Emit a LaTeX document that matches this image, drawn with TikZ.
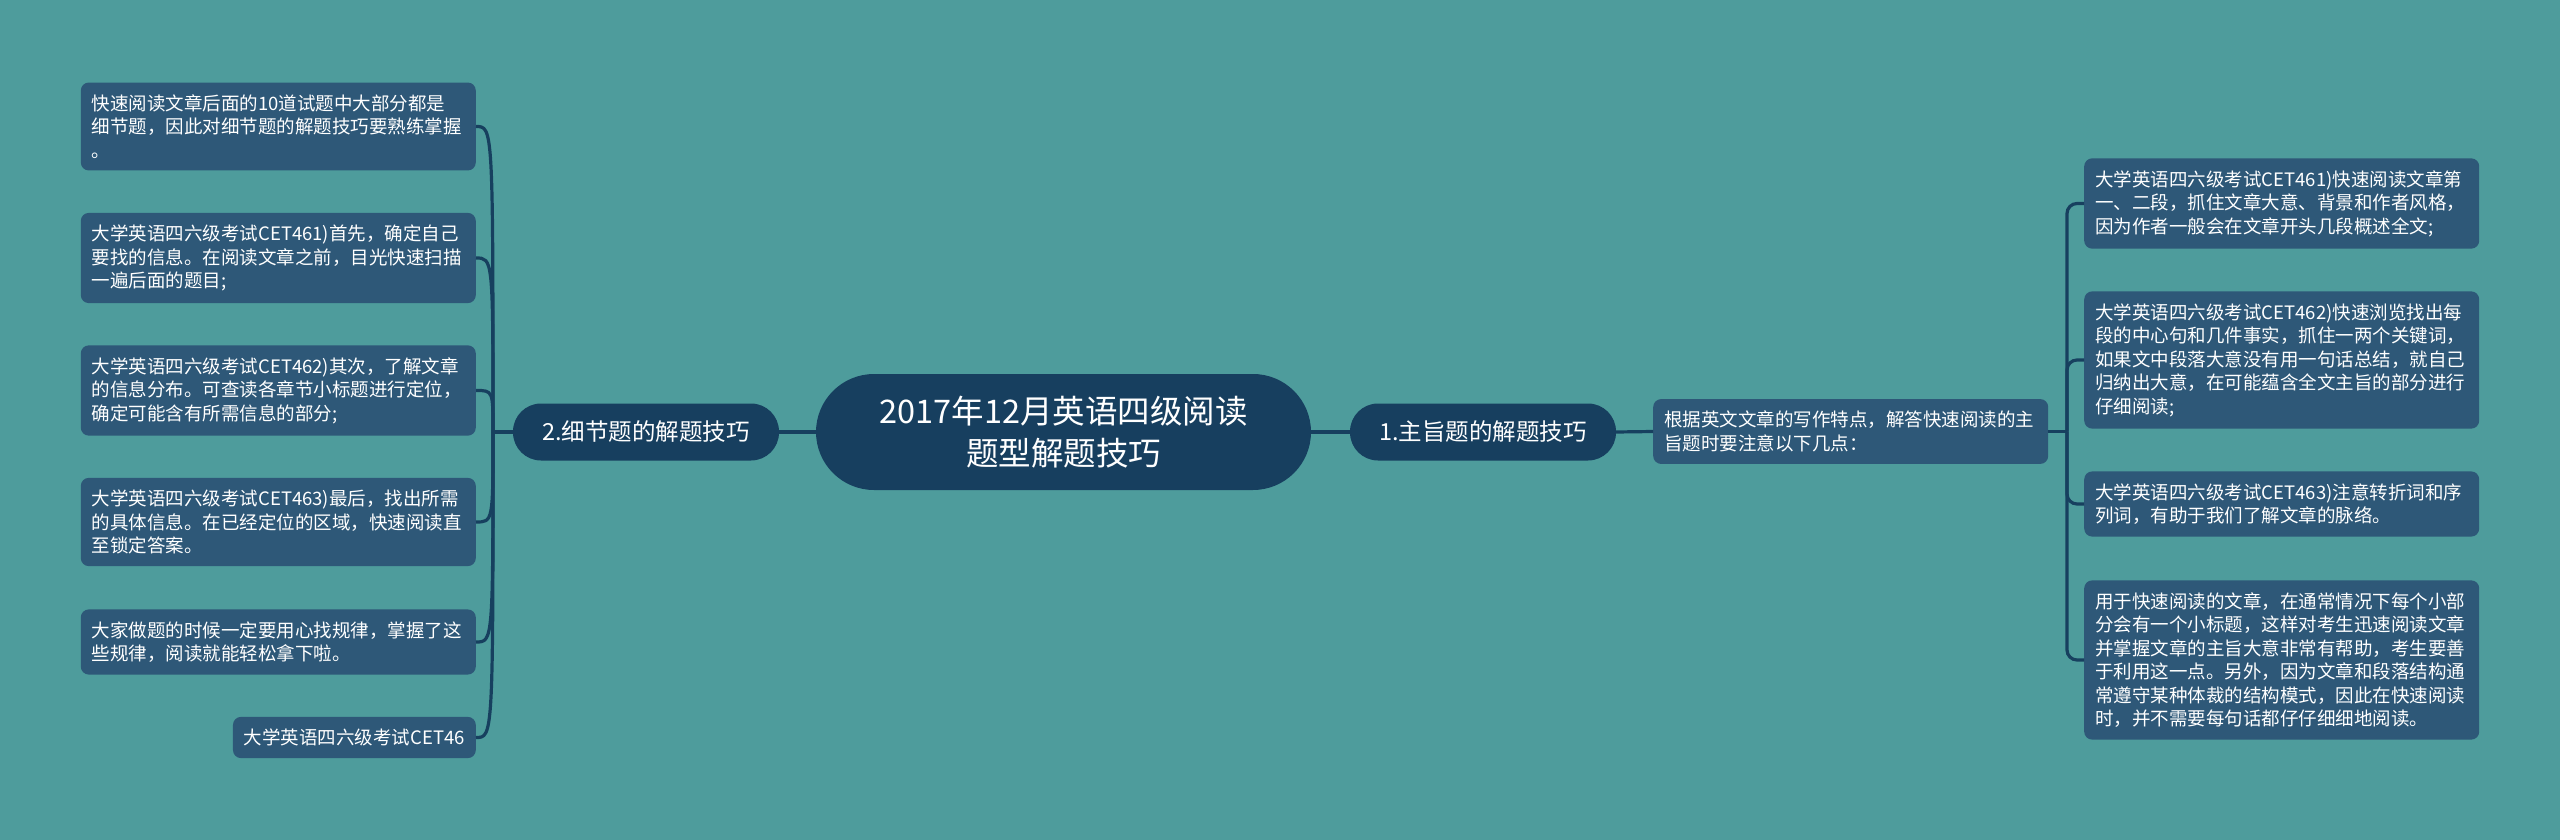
\documentclass[tikz,border=0pt]{standalone}
\usepackage{fontspec}
\setmainfont{Noto Sans CJK SC}
\usetikzlibrary{calc}
\definecolor{bgc}{HTML}{4E9C9C}
\definecolor{leafc}{HTML}{2E5878}
\definecolor{mainc}{HTML}{173F5F}
\definecolor{linec}{HTML}{17405F}
\tikzset{
  leaf/.style={fill=leafc, rounded corners=8pt, text=white, text width=373pt, align=left,
    inner xsep=11pt, inner ysep=12pt, font=\fontsize{18.5}{23.5}\selectfont},
  leafauto/.style={fill=leafc, rounded corners=8pt, text=white, align=left,
    inner xsep=11pt, inner ysep=12pt, font=\fontsize{18.5}{23.5}\selectfont},
  lone/.style={fill=mainc, rounded corners=28pt, text=white, minimum width=266pt,
    minimum height=57pt, font=\fontsize{23.5}{27}\selectfont},
  root/.style={fill=mainc, rounded corners=58pt, text=white, minimum width=495pt,
    minimum height=116pt, align=center, font=\fontsize{32.5}{42}\selectfont},
  conn/.style={draw=linec, line width=3.2pt}
}
\begin{document}
\begin{tikzpicture}[x=1pt,y=-1pt]
\fill[bgc] (0,0) rectangle (2560,840);
\useasboundingbox (0,0) rectangle (2560,840);

\node[root] (main) at (1063.5,432) {2017年12月英语四级阅读\\题型解题技巧};
\node[lone] (n2) at (646,432) {2.细节题的解题技巧};
\node[lone] (n1) at (1483,432) {1.主旨题的解题技巧};

\node[leaf, anchor=west] (r0) at (1653,431.5) {根据英文文章的写作特点，解答快速阅读的主\\旨题时要注意以下几点：};

\node[leaf, anchor=west] (r1) at (2084,203.5) {大学英语四六级考试CET461)快速阅读文章第\\一、二段，抓住文章大意、背景和作者风格，\\因为作者一般会在文章开头几段概述全文;};
\node[leaf, anchor=west] (r2) at (2084,360) {大学英语四六级考试CET462)快速浏览找出每\\段的中心句和几件事实，抓住一两个关键词，\\如果文中段落大意没有用一句话总结，就自己\\归纳出大意，在可能蕴含全文主旨的部分进行\\仔细阅读;};
\node[leaf, anchor=west] (r3) at (2084,504) {大学英语四六级考试CET463)注意转折词和序\\列词，有助于我们了解文章的脉络。};
\node[leaf, anchor=west] (r4) at (2084,660) {用于快速阅读的文章，在通常情况下每个小部\\分会有一个小标题，这样对考生迅速阅读文章\\并掌握文章的主旨大意非常有帮助，考生要善\\于利用这一点。另外，因为文章和段落结构通\\常遵守某种体裁的结构模式，因此在快速阅读\\时，并不需要每句话都仔仔细细地阅读。};

\node[leaf, anchor=east] (l1) at (476,126.5) {快速阅读文章后面的10道试题中大部分都是\\细节题，因此对细节题的解题技巧要熟练掌握\\。};
\node[leaf, anchor=east] (l2) at (476,258) {大学英语四六级考试CET461)首先，确定自己\\要找的信息。在阅读文章之前，目光快速扫描\\一遍后面的题目;};
\node[leaf, anchor=east] (l3) at (476,390.5) {大学英语四六级考试CET462)其次，了解文章\\的信息分布。可查读各章节小标题进行定位，\\确定可能含有所需信息的部分;};
\node[leaf, anchor=east] (l4) at (476,522) {大学英语四六级考试CET463)最后，找出所需\\的具体信息。在已经定位的区域，快速阅读直\\至锁定答案。};
\node[leaf, anchor=east] (l5) at (476,642) {大家做题的时候一定要用心找规律，掌握了这\\些规律，阅读就能轻松拿下啦。};
\node[leafauto, anchor=east] (l6) at (476,737.5) {大学英语四六级考试CET46};

\draw[conn] (main.west) -- (n2.east);
\draw[conn] (main.east) -- (n1.west);
\draw[conn] (n1.east) -- (r0.west);

\coordinate (RJ) at (2067,431.5);
\draw[conn] (r0.east) -- (RJ);
\foreach \k in {r1,r2,r3,r4}{
  \draw[conn, rounded corners=10pt] (RJ) |- (\k.west);
}

\coordinate (LJ) at (493,432);
\draw[conn] (n2.west) -- (LJ);
\foreach \k in {l1,l2,l3,l4,l5,l6}{
  \draw[conn] (LJ) .. controls (LJ |- \k.east) .. (\k.east);
}
\end{tikzpicture}
\end{document}
